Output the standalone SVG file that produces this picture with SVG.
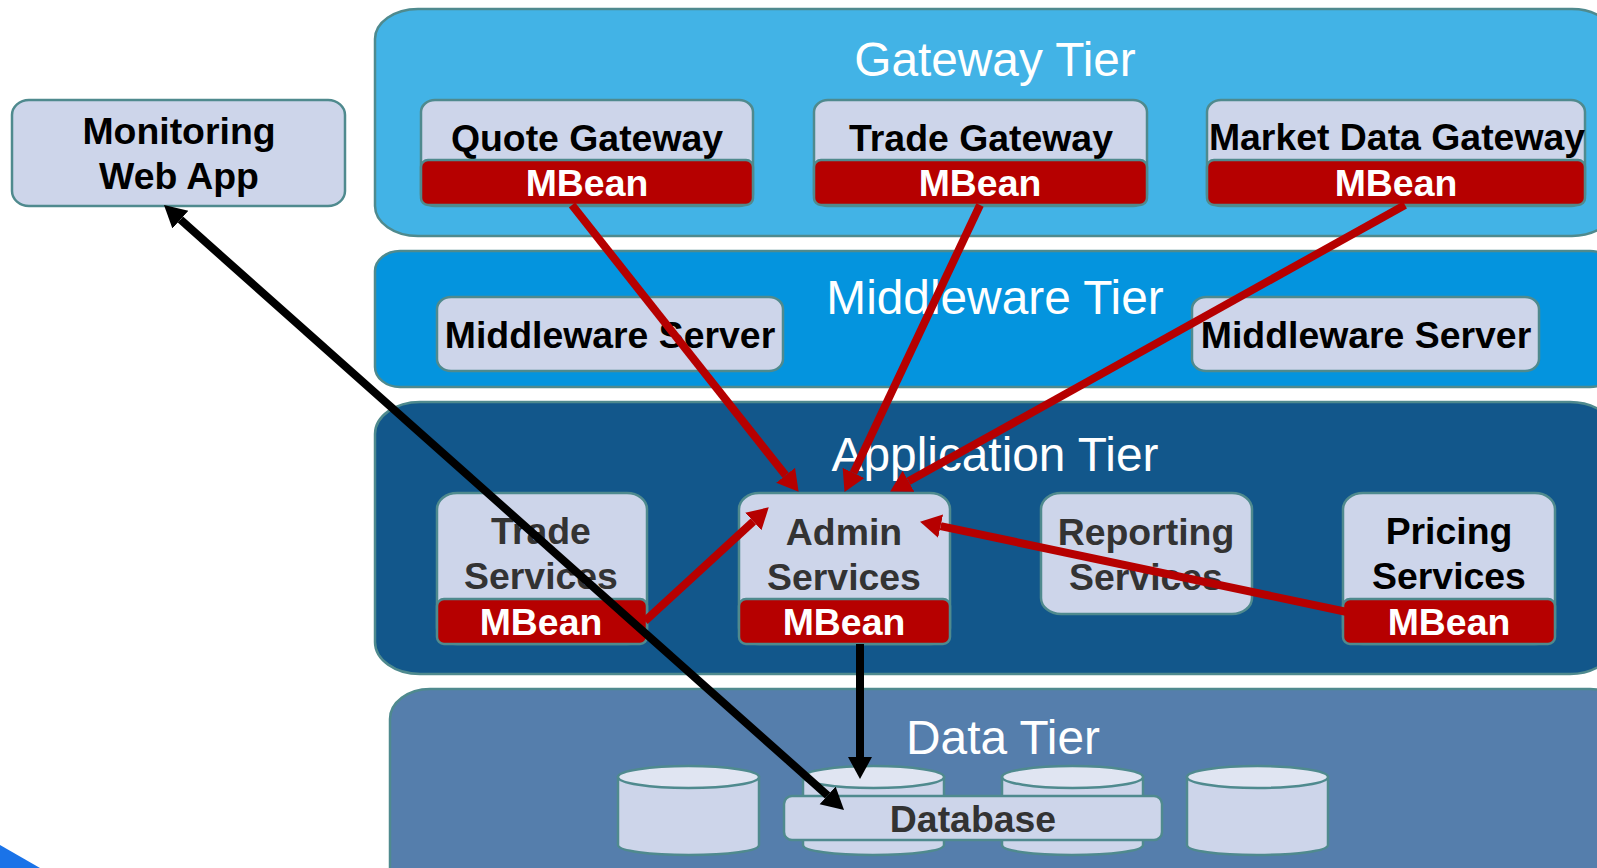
<svg xmlns="http://www.w3.org/2000/svg" width="1597" height="868" viewBox="0 0 1597 868">
<style>
text{font-family:"Liberation Sans",Arial,sans-serif;text-anchor:middle}
.tier{stroke:#4f8a8e;stroke-width:2.5}
.tl{font-size:47.8px;fill:#fff}
.n{fill:#cdd5ea;stroke:#4f8a8e;stroke-width:2.5}
.m{fill:#b60000;stroke:#4f8a8e;stroke-width:2.5}
.t{font-size:37.4px;font-weight:bold;fill:#000}
.g{font-size:37.4px;font-weight:bold;fill:#333}
.w{font-size:37.4px;font-weight:bold;fill:#fff}
.top{fill:#e0e5f2;stroke:#4f8a8e;stroke-width:2.5}
.r{stroke:#b60000;stroke-width:8;fill:none;marker-end:url(#ra)}
.b{stroke:#000;stroke-width:8;fill:none;marker-end:url(#ba)}
</style>
<defs>
<marker id="ra" markerUnits="userSpaceOnUse" markerWidth="23" markerHeight="26" refX="0" refY="13" orient="auto-start-reverse"><path d="M0 1L21 13L0 25Z" fill="#b60000"/></marker>
<marker id="ba" markerUnits="userSpaceOnUse" markerWidth="24" markerHeight="26" refX="0" refY="13" orient="auto-start-reverse"><path d="M0 1L22 13L0 25Z" fill="#000"/></marker>
</defs>
<rect width="1597" height="868" fill="#fff"/>
<path id="corner" d="M0 845L40 868H0Z" fill="#1a73e8"/>
<g id="gateway-tier"><rect class="tier" x="375" y="9" width="1240" height="227" rx="43" ry="30" fill="#42b3e6"/><text class="tl" x="995" y="76">Gateway Tier</text></g>
<g id="middleware-tier"><rect class="tier" x="375" y="251" width="1240" height="136" rx="25" ry="20" fill="#0494de"/><text class="tl" x="995" y="314">Middleware Tier</text></g>
<g id="application-tier"><rect class="tier" x="375" y="402" width="1240" height="272" rx="45" ry="32" fill="#12578b"/><text class="tl" x="995" y="471">Application Tier</text></g>
<g id="data-tier"><rect class="tier" x="390" y="689" width="1240" height="220" rx="40" ry="30" fill="#557eac"/><text class="tl" x="1003" y="754">Data Tier</text></g>
<g id="monitoring"><rect class="n" x="12" y="100" width="333" height="106" rx="17" ry="15"/><text class="t" x="179" y="144">Monitoring</text><text class="t" x="179" y="189">Web App</text></g>
<g id="quote-gateway"><rect class="n" x="421" y="100" width="332" height="106" rx="14" ry="12"/><text class="t" x="587" y="151">Quote Gateway</text><rect class="m" x="421" y="160" width="332" height="45" rx="7"/><text class="w" x="587" y="196">MBean</text></g>
<g id="trade-gateway"><rect class="n" x="814" y="100" width="333" height="106" rx="14" ry="12"/><text class="t" x="981" y="151">Trade Gateway</text><rect class="m" x="814" y="160" width="333" height="45" rx="7"/><text class="w" x="980" y="196">MBean</text></g>
<g id="market-gateway"><rect class="n" x="1207" y="100" width="378" height="106" rx="14" ry="12"/><text class="t" x="1397" y="150">Market Data Gateway</text><rect class="m" x="1207" y="160" width="378" height="45" rx="7"/><text class="w" x="1396" y="196">MBean</text></g>
<g id="middleware-server-1"><rect class="n" x="437" y="297" width="346" height="74" rx="14" ry="12"/><text class="t" x="610" y="348">Middleware Server</text></g>
<g id="middleware-server-2"><rect class="n" x="1192" y="297" width="347" height="74" rx="14" ry="12"/><text class="t" x="1366" y="348">Middleware Server</text></g>
<g id="trade-services"><rect class="n" x="437" y="493" width="210" height="151" rx="20" ry="16"/><text class="g" x="541" y="544">Trade</text><text class="g" x="541" y="589">Services</text><rect class="m" x="437" y="599" width="210" height="45" rx="7"/><text class="w" x="541" y="635">MBean</text></g>
<g id="admin-services"><rect class="n" x="739" y="493" width="211" height="151" rx="20" ry="16"/><text class="g" x="844" y="545">Admin</text><text class="g" x="844" y="590">Services</text><rect class="m" x="739" y="599" width="211" height="45" rx="7"/><text class="w" x="844" y="635">MBean</text></g>
<g id="reporting-services"><rect class="n" x="1041" y="493" width="211" height="121" rx="20" ry="16"/><text class="g" x="1146" y="545">Reporting</text><text class="g" x="1146" y="590">Services</text></g>
<g id="pricing-services"><rect class="n" x="1343" y="493" width="212" height="151" rx="20" ry="16"/><text class="t" x="1449" y="544">Pricing</text><text class="t" x="1449" y="589">Services</text><rect class="m" x="1343" y="599" width="212" height="45" rx="7"/><text class="w" x="1449" y="635">MBean</text></g>
<g id="cylinder-1"><path class="n" d="M618 777V845C618 851 650 855 689 855S759 851 759 845V777Z"/><ellipse class="top" cx="688.5" cy="777" rx="70.5" ry="11"/></g>
<g id="cylinder-2"><path class="n" d="M803 777V845C803 851 834 855 873 855S944 851 944 845V777Z"/><ellipse class="top" cx="873.5" cy="777" rx="70.5" ry="11"/></g>
<g id="cylinder-3"><path class="n" d="M1002 777V845C1002 851 1033 855 1072 855S1143 851 1143 845V777Z"/><ellipse class="top" cx="1072.5" cy="777" rx="70.5" ry="11"/></g>
<g id="cylinder-4"><path class="n" d="M1187 777V845C1187 851 1218 855 1257 855S1328 851 1328 845V777Z"/><ellipse class="top" cx="1257.5" cy="777" rx="70.5" ry="11"/></g>
<g id="database"><rect class="n" x="784" y="796" width="378" height="44" rx="8"/><text class="g" x="973" y="832">Database</text></g>
<g id="connectors">
<line class="r" x1="572" y1="205" x2="785.6" y2="475.3"/>
<line class="r" x1="980" y1="205" x2="853.5" y2="472.9"/>
<line class="r" x1="1405" y1="205" x2="908.5" y2="481.3"/>
<line class="r" x1="645" y1="621" x2="753.3" y2="521.5"/>
<line class="r" x1="1347" y1="612" x2="940.6" y2="526.1"/>
<line class="b" style="marker-start:url(#ba)" x1="180.4" y1="219.6" x2="827.6" y2="795.4"/>
<line class="b" x1="860" y1="644" x2="860" y2="757"/>
</g>
</svg>
